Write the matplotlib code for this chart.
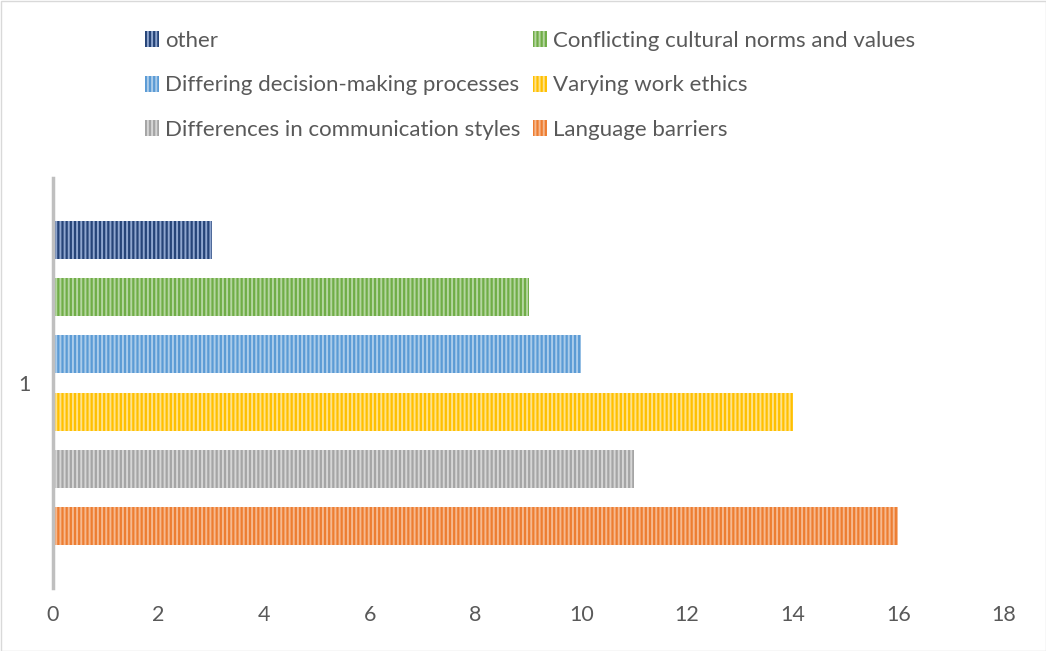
import numpy as np
import matplotlib.pyplot as plt
import matplotlib.patches as mpatches

plt.rcParams['font.family'] = ['Lato', 'DejaVu Sans']
plt.rcParams['hatch.linewidth'] = 1.4

# series in plotting order (bottom to top)
series = ['Language barriers', 'Differences in communication styles', 'Varying work ethics',
          'Differing decision-making processes', 'Conflicting cultural norms and values', 'other']
values = [16, 11, 14, 10, 9, 3]
colors = ['#ED7D31', '#A5A5A5', '#FFC000', '#5B9BD5', '#70AD47', '#264478']
stripes = ['#F6B98F', '#D6D6D6', '#FFE28A', '#ABCCEA', '#B5D6A0', '#8FA6CF']
category = ['1']

fig = plt.figure(figsize=(10.46, 6.51), dpi=100)
W, H = 1046, 651
ax = fig.add_axes([53 / W, (H - 588) / H, (1004 - 53) / W, (588 - 178) / H])

n = len(series)
offsets = np.arange(n) - (n - 1) / 2
bars = []
for off, v, c, s, name in zip(offsets, values, colors, stripes, series):
    b = ax.barh(off, v, height=0.665, color=c, edgecolor=s, hatch='||||',
                linewidth=0, label=name)
    bars.append(b)

ax.set_xlim(0, 18)
ax.set_ylim(-3.585, 3.585)
ax.set_xticks(np.arange(0, 19, 2))
ax.set_yticks([0])
ax.set_yticklabels(category)
ax.tick_params(axis='both', length=0, labelsize=15.5, labelcolor='#595959')
ax.tick_params(axis='x', pad=12)
ax.tick_params(axis='y', pad=16)
for sp in ['top', 'right', 'bottom']:
    ax.spines[sp].set_visible(False)
ax.spines['left'].set_color('#BFBFBF')
ax.spines['left'].set_linewidth(2.5)

# legend laid out row by row: other / Conflicting, Differing / Varying, Differences / Language
order = [5, 3, 1, 4, 2, 0]
handles = [bars[i] for i in order]
labels = [series[i] for i in order]
fig.legend(handles, labels, ncol=2, loc='upper left', bbox_to_anchor=(125 / W, 1 - 11 / H),
           frameon=False, fontsize=16, labelcolor='#595959', handlelength=0.65,
           handleheight=0.75, handletextpad=0.25, columnspacing=0.55, labelspacing=1.1)

fig.patches.append(mpatches.Rectangle((0.5 / W, 0.5 / H), 1 - 1 / W, 1 - 1 / H,
                                      transform=fig.transFigure, fill=False,
                                      edgecolor='#D9D9D9', linewidth=1))

fig.savefig('out.png', dpi=100)
